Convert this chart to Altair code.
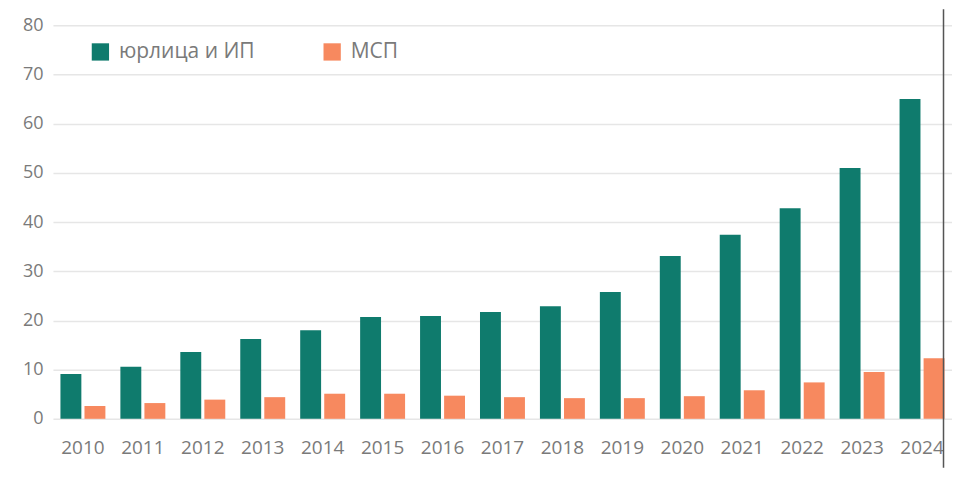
import altair as alt
import pandas as pd

years = [str(y) for y in range(2010, 2025)]
yur = [9.1, 10.6, 13.6, 16.2, 18.0, 20.7, 20.9, 21.7, 22.9, 25.8, 33.1, 37.4, 42.8, 51.0, 65.0]
msp = [2.6, 3.2, 3.9, 4.4, 5.1, 5.1, 4.7, 4.4, 4.2, 4.2, 4.6, 5.8, 7.4, 9.5, 12.3]
series = ["юрлица и ИП", "МСП"]
colors = ["#0f7b6d", "#f7895f"]
y_ticks = list(range(0, 81, 10))

rows = []
for i, y in enumerate(years):
    rows.append({"year": y, "series": series[0], "value": yur[i]})
    rows.append({"year": y, "series": series[1], "value": msp[i]})
df = pd.DataFrame(rows)

label_color = "#7a7a7a"
font = "Open Sans"

bars = alt.Chart(df).mark_bar().encode(
    x=alt.X(
        "year:N",
        sort=years,
        scale=alt.Scale(range=[0, 900], paddingInner=0.25, paddingOuter=0.125),
        axis=alt.Axis(title=None, labelAngle=0, ticks=False, domain=False,
                      labelFontSize=19, labelColor=label_color, labelPadding=20,
                      labelFont=font, grid=False),
    ),
    xOffset=alt.XOffset("series:N", sort=series, scale=alt.Scale(paddingInner=0.13)),
    y=alt.Y(
        "value:Q",
        scale=alt.Scale(domain=[0, 80]),
        axis=alt.Axis(title=None, values=y_ticks, ticks=False, domain=False,
                      labelFontSize=18, labelColor=label_color, labelPadding=10,
                      labelFont=font, grid=True, gridColor="#e6e6e6", gridWidth=1.5),
    ),
    color=alt.Color(
        "series:N",
        scale=alt.Scale(domain=series, range=colors),
        legend=alt.Legend(
            title=None, orient="none", legendX=37, legendY=16, direction="horizontal",
            symbolType="square", symbolSize=300, symbolStrokeWidth=0, symbolOpacity=1,
            labelFontSize=21, labelColor=label_color, labelFont=font,
            columnPadding=67, labelOffset=8,
        ),
    ),
)

rule = alt.Chart(pd.DataFrame({"a": [0]})).mark_rule(color="#555555", strokeWidth=1.5).encode(
    x=alt.value(891.5), y=alt.value(-16), y2=alt.value(443)
)

chart = alt.layer(bars, rule).properties(
    width=892, height=394,
    padding={"left": 14, "top": 0, "right": 0, "bottom": 5},
).configure_view(stroke=None)

chart.save("out.html", embed_options={"renderer": "svg", "actions": False})
